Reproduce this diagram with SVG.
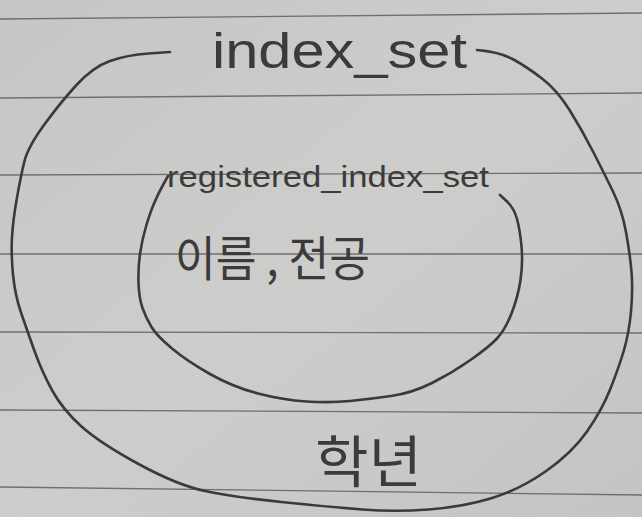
<svg xmlns="http://www.w3.org/2000/svg" width="642" height="517" viewBox="0 0 642 517">
  <defs>
    <linearGradient id="paperGrad" x1="0" y1="0" x2="1" y2="1">
      <stop offset="0" stop-color="#c6c6c4"/>
      <stop offset="0.5" stop-color="#cdcdcb"/>
      <stop offset="1" stop-color="#c4c4c2"/>
    </linearGradient>
  </defs>
  <style>
    .rule { stroke: #6f6f6f; stroke-width: 1.3; fill: none; }
    .pen { stroke: #3a3a3a; stroke-width: 2.6; fill: none; stroke-linecap: round; stroke-linejoin: round; }
    .hand { fill: #3b3b3b; font-family: "Liberation Sans", "Noto Sans", sans-serif; }
    .kor { fill: #3b3b3b; font-family: "Noto Sans CJK KR", "Noto Sans", sans-serif; }
  </style>

  <g id="paper">
    <rect x="0" y="0" width="642" height="517" fill="url(#paperGrad)"/>
    <line class="rule" x1="0" y1="19" x2="642" y2="13"/>
    <line class="rule" x1="0" y1="98" x2="642" y2="93"/>
    <line class="rule" x1="0" y1="175" x2="642" y2="173"/>
    <line class="rule" x1="0" y1="254" x2="642" y2="254"/>
    <line class="rule" x1="0" y1="332" x2="642" y2="333"/>
    <line class="rule" x1="0" y1="410" x2="642" y2="413"/>
    <line class="rule" x1="0" y1="487" x2="642" y2="495"/>
  </g>

  <g id="index_set">
    <path class="pen" d="M170,52 L148.5,53.5 Q127,55 110,61 Q93,67 76.5,85 Q60,103 44,125 Q28,147 24.5,161 Q21,175 17,197.5 Q13,220 12,237 Q11,254 13,274.5 Q15,295 21,312.5 Q27,330 34.5,351 Q42,372 52.5,391 Q63,410 81.5,426.5 Q100,443 138.5,464 Q177,485 205,491 Q233,497 281.5,502 Q330,507 362.5,509.5 Q395,512 428.5,509.5 Q462,507 490.5,498.5 Q519,490 545.5,471.5 Q572,453 587,431.5 Q602,410 610.5,388.5 Q619,367 624,350 Q629,333 631,311.5 Q633,290 631.5,272 Q630,254 626,232 Q622,210 613,191.5 Q604,173 593,151.5 Q582,130 569.5,110 Q557,90 542,78.5 Q527,67 513.5,59.5 Q500,52 477,50"/>
    <text class="hand" x="212" y="68" font-size="50" textLength="255" lengthAdjust="spacingAndGlyphs">index_set</text>
    <text class="kor" x="315" y="482" font-size="56" textLength="107" lengthAdjust="spacingAndGlyphs">학년</text>
  </g>

  <g id="registered_index_set">
    <path class="pen" d="M168,176 L163,185 Q158,194 154,203.5 Q150,213 146,226.5 Q142,240 140,254 Q138,268 138.5,283 Q139,298 142.5,308 Q146,318 151.5,327 Q157,336 172,348.5 Q187,361 210,374 Q233,387 258,393.5 Q283,400 306.5,401.5 Q330,403 350,401 Q370,399 391,396 Q412,393 432,383 Q452,373 470.5,360 Q489,347 497,338.5 Q505,330 511.5,313.5 Q518,297 520.5,280 Q523,263 521.5,246.5 Q520,230 517,219 Q514,208 507,201.5 L500,195"/>
    <text class="hand" x="167" y="187" font-size="30" textLength="322" lengthAdjust="spacingAndGlyphs">registered_index_set</text>
    <text class="kor" x="175" y="276" font-size="48" textLength="195" lengthAdjust="spacingAndGlyphs">이름 , 전공</text>
  </g>

  <g id="connectors"></g>
</svg>
